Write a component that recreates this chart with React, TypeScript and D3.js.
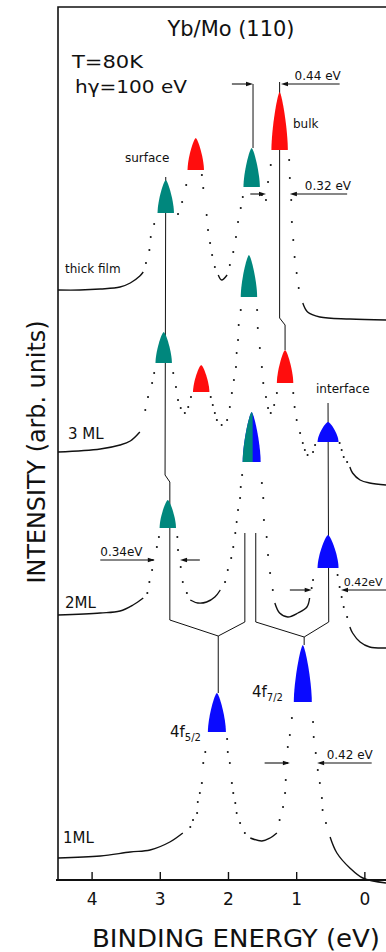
import React from 'react';
import * as d3 from 'd3';

type Pt = [number, number];

// Yb 4f spectra: binding energy (eV), intensity above the spectrum's own baseline (arb. units)
const thickFilm: Pt[] = [
  [4.5, 0], [4.18, 0], [3.88, 0.1], [3.59, 0.3], [3.44, 0.7], [3.3, 1.4], [3.25, 1.8],
  [3.21, 2.7], [3.16, 4.0], [3.14, 5.3], [3.09, 6.6],
  [2.74, 7.6], [2.68, 8.8], [2.62, 10.5],
  [2.39, 11.5], [2.37, 10.2], [2.32, 7.5], [2.3, 6.0], [2.27, 4.7], [2.24, 3.5], [2.2, 2.3],
  [2.15, 1.5], [2.1, 1.0], [2.02, 1.5], [1.98, 2.5], [1.93, 3.8], [1.89, 5.3], [1.86, 6.8],
  [1.82, 8.2], [1.79, 9.3],
  [1.51, 9.5], [1.45, 9.0], [1.42, 10.8], [1.38, 12.5],
  [1.11, 13.0], [1.1, 11.2], [1.08, 9.0], [1.07, 6.8], [1.05, 5.0], [1.03, 3.3], [1.0, 1.7],
  [0.97, 0.2], [0.91, -1.3], [0.84, -2.2], [0.66, -2.7], [0.22, -2.9], [-0.31, -3.0],
];

const ml3: Pt[] = [
  [4.5, 0], [3.88, 0.3], [3.59, 0.7], [3.44, 1.1], [3.3, 2.0],
  [3.22, 4.2], [3.18, 5.5], [3.12, 6.9], [3.09, 7.9],
  [2.81, 7.9], [2.77, 6.5], [2.74, 5.2], [2.7, 4.4], [2.64, 3.9], [2.59, 4.5], [2.55, 5.5],
  [2.26, 5.5], [2.23, 4.7], [2.2, 3.9], [2.17, 3.2], [2.1, 2.7], [2.02, 3.2], [1.98, 4.5],
  [1.95, 5.9], [1.92, 7.2], [1.89, 8.5], [1.88, 9.9], [1.86, 11.2], [1.85, 12.7], [1.82, 14.2],
  [1.58, 14.2], [1.57, 12.4], [1.54, 10.4], [1.51, 8.5], [1.49, 6.9], [1.45, 5.5], [1.42, 4.4],
  [1.38, 3.9], [1.33, 4.7], [1.29, 5.9],
  [1.05, 5.9], [1.03, 4.5], [1.0, 3.2], [0.95, 1.9], [0.91, 0.9], [0.88, 0.2], [0.84, -0.3],
  [0.76, 0.0], [0.73, 0.7],
  [0.37, 0.9], [0.34, 0.2], [0.31, -0.5], [0.26, -1.0], [0.22, -1.5], [0.18, -2.1],
  [0.07, -2.8], [-0.07, -3.1], [-0.31, -3.3],
];

const ml2: Pt[] = [
  [4.5, 0], [3.88, 0.2], [3.59, 0.4], [3.4, 1.0], [3.25, 1.7],
  [3.19, 2.2], [3.16, 3.3], [3.12, 4.5], [3.11, 5.5], [3.05, 6.8], [3.02, 7.8],
  [2.75, 7.8], [2.74, 6.5], [2.7, 4.8], [2.67, 3.3], [2.61, 2.2], [2.56, 1.5], [2.45, 1.2],
  [2.32, 1.3], [2.2, 1.8], [2.12, 2.5], [2.05, 3.3], [2.01, 4.5], [1.96, 5.7], [1.93, 6.8],
  [1.9, 8.2], [1.88, 9.3], [1.86, 10.5], [1.83, 11.7], [1.82, 12.8], [1.8, 14.0],
  [1.51, 13.2], [1.49, 11.7], [1.48, 9.5], [1.44, 7.8], [1.42, 6.0], [1.39, 4.2], [1.35, 2.5],
  [1.32, 1.2], [1.25, 0.2], [1.13, -0.2], [0.98, 0.2], [0.85, 0.8], [0.81, 1.7], [0.78, 2.7],
  [0.76, 3.5],
  [0.4, 4.0], [0.37, 2.8], [0.34, 1.8], [0.31, 0.8], [0.26, -0.2], [0.22, -1.2], [0.18, -1.8],
  [0.07, -2.7], [-0.07, -3.2], [-0.31, -3.3],
];

const ml1: Pt[] = [
  [4.5, 0], [3.88, 0.2], [3.44, 0.6], [3.15, 0.8], [2.86, 1.6], [2.67, 2.5],
  [2.56, 3.1], [2.52, 3.8], [2.46, 4.5], [2.45, 5.6], [2.42, 6.5], [2.39, 7.5], [2.37, 9.5],
  [2.34, 10.6],
  [2.02, 11.9], [2.01, 10.6], [1.98, 9.5], [1.95, 7.5], [1.93, 6.5], [1.9, 5.5], [1.88, 4.5],
  [1.83, 3.5], [1.76, 2.5], [1.68, 2.0], [1.51, 1.7], [1.39, 2.0], [1.29, 2.5], [1.25, 3.8],
  [1.2, 5.1], [1.17, 6.5], [1.16, 7.8], [1.14, 9.5], [1.13, 11.1], [1.1, 12.3], [1.07, 14.0],
  [0.76, 13.6], [0.75, 12.1], [0.72, 10.5], [0.69, 8.8], [0.66, 7.5], [0.63, 6.0], [0.62, 4.8],
  [0.57, 3.5], [0.51, 2.1], [0.41, 0.5], [0.22, -1.0], [0.03, -2.0], [-0.31, -2.5],
];

// peak markers: [energy, base, top, component]
type Peak = [number, number, number, string];
const thickFilmPeaks: Peak[] = [
  [2.92, 7.7, 11.0, 'surface'], [2.48, 12.0, 15.2, 'bulk'],
  [1.66, 10.3, 14.2, 'surface'], [1.25, 14.0, 19.8, 'bulk'],
];
const ml3Peaks: Peak[] = [
  [2.95, 8.9, 12.0, 'surface'], [2.4, 6.0, 8.7, 'bulk'], [1.7, 15.5, 19.7, 'surface'],
  [1.17, 6.9, 10.2, 'bulk'], [0.54, 1.0, 3.0, 'interface'],
];
const ml2Peaks: Peak[] = [
  [2.89, 8.7, 11.5, 'surface'], [1.66, 15.3, 20.3, 'mixed'], [0.54, 4.7, 8.0, 'interface'],
];
const ml1Peaks: Peak[] = [[2.17, 12.6, 16.5, 'interface'], [0.91, 15.6, 21.3, 'interface']];

const spectra = [
  { name: 'thick film', offset: 59.0, data: thickFilm, peaks: thickFilmPeaks, solid: [[4.5, 3.25], [2.16, 2.02], [0.92, -0.31]] },
  { name: '3 ML', offset: 42.8, data: ml3, peaks: ml3Peaks, solid: [[4.5, 3.3], [0.22, -0.31]] },
  { name: '2ML', offset: 26.5, data: ml2, peaks: ml2Peaks, solid: [[4.5, 3.25], [2.56, 2.12], [1.32, 0.81], [0.22, -0.31]] },
  { name: '1ML', offset: 2.2, data: ml1, peaks: ml1Peaks, solid: [[4.5, 2.67], [1.68, 1.29], [0.52, -0.31]] },
];

// connecting lines between peaks, [energy, absolute intensity]
const guideLines: Pt[][] = [
  [[2.92, 70.3], [2.93, 40.5], [2.86, 39.8], [2.86, 26.0], [2.15, 24.4], [2.15, 18.7]],
  [[1.76, 34.7], [1.76, 25.8], [2.15, 24.4]],
  [[1.6, 34.7], [1.6, 25.8], [0.89, 24.3], [0.89, 23.5]],
  [[0.54, 47.7], [0.53, 25.8], [0.89, 24.3]],
  [[1.25, 79.8], [1.25, 56.2], [1.17, 55.5], [1.17, 53.0]],
  [[1.64, 79.6], [1.64, 73.2]],
];

// width markers: two arrows pointing at each other
const widthMarks = [
  { label: '0.44 eV', level: 79.6, left: [1.95, 1.64], right: [0.37, 1.23], labelE: 1.03, size: 12 },
  { label: '0.32 eV', level: 68.6, left: [1.68, 1.45], right: [0.26, 1.1], labelE: 0.88, size: 12 },
  { label: '0.34eV', level: 32.0, left: [3.88, 3.08], right: [2.42, 2.71], labelE: 3.88, size: 12 },
  { label: '0.42eV', level: 29.0, left: [1.1, 0.78], right: [-0.31, 0.35], labelE: 0.31, size: 11 },
  { label: '0.42 eV', level: 11.7, left: [1.47, 1.1], right: [-0.1, 0.7], labelE: 0.56, size: 12 },
];

const xTicks = [4, 3, 2, 1, 0];

const colors: Record<string, string> = {
  surface: '#00877d',
  bulk: '#ff0d0d',
  interface: '#0a0aff',
};

const font = '"DejaVu Sans", Arial, sans-serif';

export default function App() {
  const W = 386;
  const H = 952;
  const x = d3.scaleLinear().domain([4.5, -0.31]).range([58, 386]);
  const y = d3.scaleLinear().domain([0, 87.3]).range([880, 7]);

  const lineAbs = d3
    .line<Pt>()
    .x((d) => x(d[0]))
    .y((d) => y(d[1]));

  // rounded-triangle peak marker
  const bullet = (cx: number, yb: number, yt: number, w: number) => {
    const h = yb - yt;
    return `M${cx - w},${yb} C${cx - w},${yb - h * 0.35} ${cx - w * 0.3},${yt + h * 0.04} ${cx},${yt} C${cx + w * 0.3},${yt + h * 0.04} ${cx + w},${yb - h * 0.35} ${cx + w},${yb} Z`;
  };

  const arrow = (e1: number, e2: number, level: number, key: string) => {
    const x1 = x(e1);
    const x2 = x(e2);
    const yy = y(level);
    const dir = Math.sign(x2 - x1);
    return (
      <g key={key}>
        <line x1={x1} x2={x2 - dir * 3} y1={yy} y2={yy} stroke="#111" strokeWidth={1.1} />
        <path d={`M${x2},${yy} L${x2 - dir * 7},${yy - 2.3} L${x2 - dir * 7},${yy + 2.3} Z`} fill="#111" />
      </g>
    );
  };

  return (
    <>
      <style>{`body{margin:0}`}</style>
      <svg width={W} height={H} style={{ display: 'block', background: '#fff' }} fontFamily={font}>
        {/* frame and axis */}
        <path d={`M${W + 2},7 H58 V880`} fill="none" stroke="#111" strokeWidth={1.6} />
        <line x1={56} x2={W + 2} y1={880} y2={880} stroke="#111" strokeWidth={1.8} />
        {xTicks.map((t) => (
          <g key={t}>
            <line x1={x(t)} x2={x(t)} y1={880} y2={872} stroke="#111" strokeWidth={1.4} />
            <text x={x(t)} y={905} textAnchor="middle" fontSize={17} fill="#111">
              {t}
            </text>
          </g>
        ))}
        <text x={92} y={947} fontSize={25} textLength={288} lengthAdjust="spacingAndGlyphs" fill="#111">
          BINDING ENERGY  (eV)
        </text>
        <text
          transform="translate(45,452) rotate(-90)"
          textAnchor="middle"
          fontSize={24}
          textLength={263}
          lengthAdjust="spacingAndGlyphs"
          fill="#111"
        >
          INTENSITY (arb. units)
        </text>

        {/* guide lines */}
        {guideLines.map((g, i) => (
          <path key={i} d={lineAbs(g) || ''} fill="none" stroke="#111" strokeWidth={1} />
        ))}

        {/* spectra */}
        {spectra.map((s) => {
          const inSolid = (e: number) => s.solid.some(([a, b]) => e <= a + 1e-9 && e >= b - 1e-9);
          const line = d3
            .line<Pt>()
            .x((d) => x(d[0]))
            .y((d) => y(s.offset + d[1]))
            .curve(d3.curveCatmullRom.alpha(0.5));
          return (
            <g key={s.name}>
              {s.solid.map(([a, b], i) => {
                const seg = s.data.filter((d) => d[0] <= a + 1e-9 && d[0] >= b - 1e-9);
                return <path key={i} d={line(seg) || ''} fill="none" stroke="#111" strokeWidth={1.4} />;
              })}
              {s.data
                .filter((d) => !inSolid(d[0]))
                .map((d, i) => (
                  <circle key={i} cx={x(d[0])} cy={y(s.offset + d[1])} r={1.05} fill="#111" />
                ))}
            </g>
          );
        })}

        {/* peak markers */}
        <defs>
          {spectra.map((s) =>
            s.peaks
              .filter((p) => p[3] === 'mixed')
              .map((p, i) => (
                <clipPath id={`mix-${i}-${s.name.replace(/\s/g, '')}`} key={`${s.name}-${i}`}>
                  <rect x={x(p[0]) - 20} y={0} width={21} height={H} />
                </clipPath>
              ))
          )}
        </defs>
        {spectra.map((s) =>
          s.peaks.map((p, i) => {
            const cx = x(p[0]);
            const yb = y(s.offset + p[1]);
            const yt = y(s.offset + p[2]);
            const w = p[3] === 'interface' ? (s.offset < 10 ? 9 : 10.5) : p[3] === 'mixed' ? 9 : 8.2;
            const d = bullet(cx, yb, yt, w);
            if (p[3] === 'mixed') {
              const k = s.peaks.slice(0, i).filter((q) => q[3] === 'mixed').length;
              return (
                <g key={`${s.name}-${i}`}>
                  <path d={d} fill={colors.interface} />
                  <path d={d} fill={colors.surface} clipPath={`url(#mix-${k}-${s.name.replace(/\s/g, '')})`} />
                </g>
              );
            }
            return <path key={`${s.name}-${i}`} d={d} fill={colors[p[3]]} />;
          })
        )}

        {/* width arrows */}
        {widthMarks.map((m, i) => (
          <g key={i}>
            {arrow(m.left[0], m.left[1], m.level, `l${i}`)}
            {arrow(m.right[0], m.right[1], m.level, `r${i}`)}
            <text x={x(m.labelE)} y={y(m.level) - 4} fontSize={m.size} fill="#111">
              {m.label}
            </text>
          </g>
        ))}

        {/* texts */}
        <text x={231} y={36} textAnchor="middle" fontSize={20.5} textLength={127} lengthAdjust="spacingAndGlyphs" fill="#111">
          Yb/Mo (110)
        </text>
        <text x={72} y={68} fontSize={18.5} textLength={71} lengthAdjust="spacingAndGlyphs" fill="#111">
          T=80K
        </text>
        <text x={75} y={93} fontSize={18.5} textLength={112} lengthAdjust="spacingAndGlyphs" fill="#111">
          hγ=100 eV
        </text>
        <text x={125} y={162} fontSize={12} fill="#111">surface</text>
        <text x={293} y={128} fontSize={12} fill="#111">bulk</text>
        <text x={65} y={273} fontSize={12} fill="#111">thick film</text>
        <text x={316} y={393} fontSize={12} fill="#111">interface</text>
        <text x={68} y={439} fontSize={15} fill="#111">3 ML</text>
        <text x={65} y={608} fontSize={15} fill="#111">2ML</text>
        <text x={63} y={843} fontSize={15} fill="#111">1ML</text>
        <text x={170} y={737} fontSize={15} fill="#111">
          4f<tspan dy={4} fontSize={10}>5/2</tspan>
        </text>
        <text x={252} y={697} fontSize={15} fill="#111">
          4f<tspan dy={4} fontSize={10}>7/2</tspan>
        </text>
      </svg>
    </>
  );
}
